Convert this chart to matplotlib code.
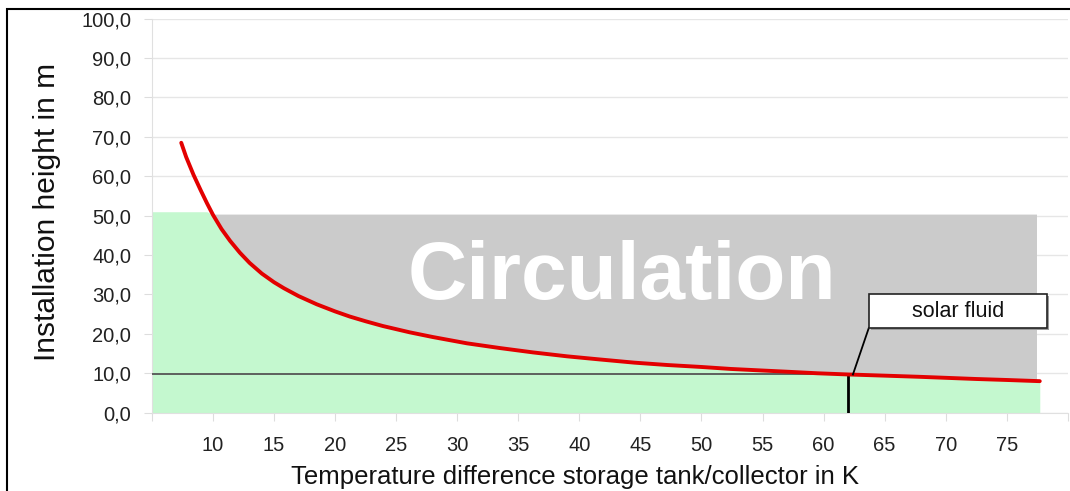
import numpy as np
import matplotlib
matplotlib.use('Agg')
import matplotlib.pyplot as plt
from matplotlib.patches import Rectangle

plt.rcParams['font.family'] = ['Liberation Sans', 'DejaVu Sans']

# curve: temperature difference (K) -> installation height (m)
dt = [7.4, 7.8, 8.4, 9.0, 9.5, 10.0, 10.7, 11.4, 12.2, 13.0, 14.0, 15.0,
      15.8, 17.0, 18.5, 20.0, 21.2, 22.5, 23.9, 26.1, 28.0, 30.8, 33.5,
      36.2, 39.0, 41.7, 44.5, 47.2, 50.0, 52.4, 55.0, 57.0, 59.5, 62.0,
      65.0, 67.9, 70.0, 72.5, 75.0, 77.7]
height = [68.5, 64.9, 60.4, 56.4, 53.2, 50.2, 46.6, 43.6, 40.6, 38.0, 35.3,
          33.1, 31.6, 29.6, 27.5, 25.7, 24.4, 23.2, 22.0, 20.4, 19.2, 17.6,
          16.4, 15.3, 14.3, 13.5, 12.7, 12.1, 11.6, 11.1, 10.7, 10.4, 10.0,
          9.7, 9.4, 9.1, 8.85, 8.55, 8.3, 8.0]

green_top = 51.0
gray_top = 50.4
gray_end = 77.4
fluid_dt = 62.0
fluid_h = 9.7

yticks = [0, 10, 20, 30, 40, 50, 60, 70, 80, 90, 100]
xticks = [5, 10, 15, 20, 25, 30, 35, 40, 45, 50, 55, 60, 65, 70, 75, 80]
xlabels = ['', '10', '15', '20', '25', '30', '35', '40', '45', '50', '55',
           '60', '65', '70', '75', '']


def main():
    fig = plt.figure(figsize=(10.7, 4.91), dpi=100)
    ax = fig.add_axes([0.142, 0.1595, 0.856, 0.8025])

    x = np.array(dt)
    y = np.array(height)

    # green zone below the curve, capped at about 51 m
    gx = np.concatenate([[xticks[0]], x])
    gy = np.concatenate([[green_top], np.minimum(y, green_top)])
    ax.fill_between(gx, 0, gy, color='#c4f8cf', lw=0, zorder=1)

    # gray "circulation" zone above the curve, cut off a bit before the end
    gray = ax.fill_between(x, y, gray_top, where=y <= gray_top,
                           interpolate=True, color='#cbcbcb', lw=0, zorder=1)
    clip = Rectangle((xticks[0], 0), gray_end - xticks[0], 100,
                     transform=ax.transData)
    gray.set_clip_path(clip)

    for yt in yticks:
        ax.axhline(yt, color='#e6e6e6', lw=1, zorder=0.5)

    ax.plot(x, y, color='#e30000', lw=2.8, solid_capstyle='round',
            solid_joinstyle='round', zorder=4)

    ax.plot([xticks[0], fluid_dt], [fluid_h, fluid_h], color='#555555',
            lw=1.3, zorder=3)
    ax.plot([fluid_dt, fluid_dt], [0, fluid_h], color='black', lw=2, zorder=3)

    ax.text(43.5, 34.2, 'Circulation', color='white', fontsize=59,
            fontweight='bold', ha='center', va='center', zorder=5)

    # callout box
    bx0, bx1, by0, by1 = 63.7, 78.3, 21.5, 30.1
    ax.add_patch(Rectangle((bx0 + 0.15, by0 - 0.5), bx1 - bx0, by1 - by0,
                           fc='#9a9a9a', ec='none', zorder=5))
    ax.add_patch(Rectangle((bx0, by0), bx1 - bx0, by1 - by0, fc='white',
                           ec='#222222', lw=1.2, zorder=6))
    ax.text((bx0 + bx1) / 2, (by0 + by1) / 2 - 0.2, 'solar fluid',
            fontsize=15.5, ha='center', va='center', color='#111111',
            zorder=7)
    ax.plot([fluid_dt + 0.4, bx0], [fluid_h, by0], color='black', lw=1.3,
            zorder=5)

    ax.set_xlim(5, 80)
    ax.set_ylim(0, 100)
    ax.set_yticks(yticks)
    ax.set_yticklabels(['{:.1f}'.format(v).replace('.', ',') for v in yticks])
    ax.set_xticks(xticks)
    ax.set_xticklabels(xlabels)
    ax.tick_params(axis='both', colors='#dddddd', labelcolor='#222222',
                   labelsize=14.5, length=6)
    ax.tick_params(axis='x', pad=11)
    ax.tick_params(axis='y', pad=9)
    for s in ['top', 'right']:
        ax.spines[s].set_visible(False)
    for s in ['left', 'bottom']:
        ax.spines[s].set_color('#e0e0e0')

    ax.set_xlabel('Temperature difference storage tank/collector in K',
                  fontsize=18.5, color='#111111')
    ax.xaxis.set_label_coords(0.462, -0.133)
    ax.set_ylabel('Installation height in m', fontsize=21.5,
                  color='#111111')
    ax.yaxis.set_label_coords(-0.099, 0.51)

    # outer frame (only left and top edges are visible in the crop)
    fig.add_artist(Rectangle((7 / 1070, -0.1), 1.2, 1.1 - 9 / 491,
                             transform=fig.transFigure, fill=False,
                             ec='black', lw=1.5))

    fig.savefig('out.png', dpi=100)
    plt.close(fig)


if __name__ == '__main__':
    main()
